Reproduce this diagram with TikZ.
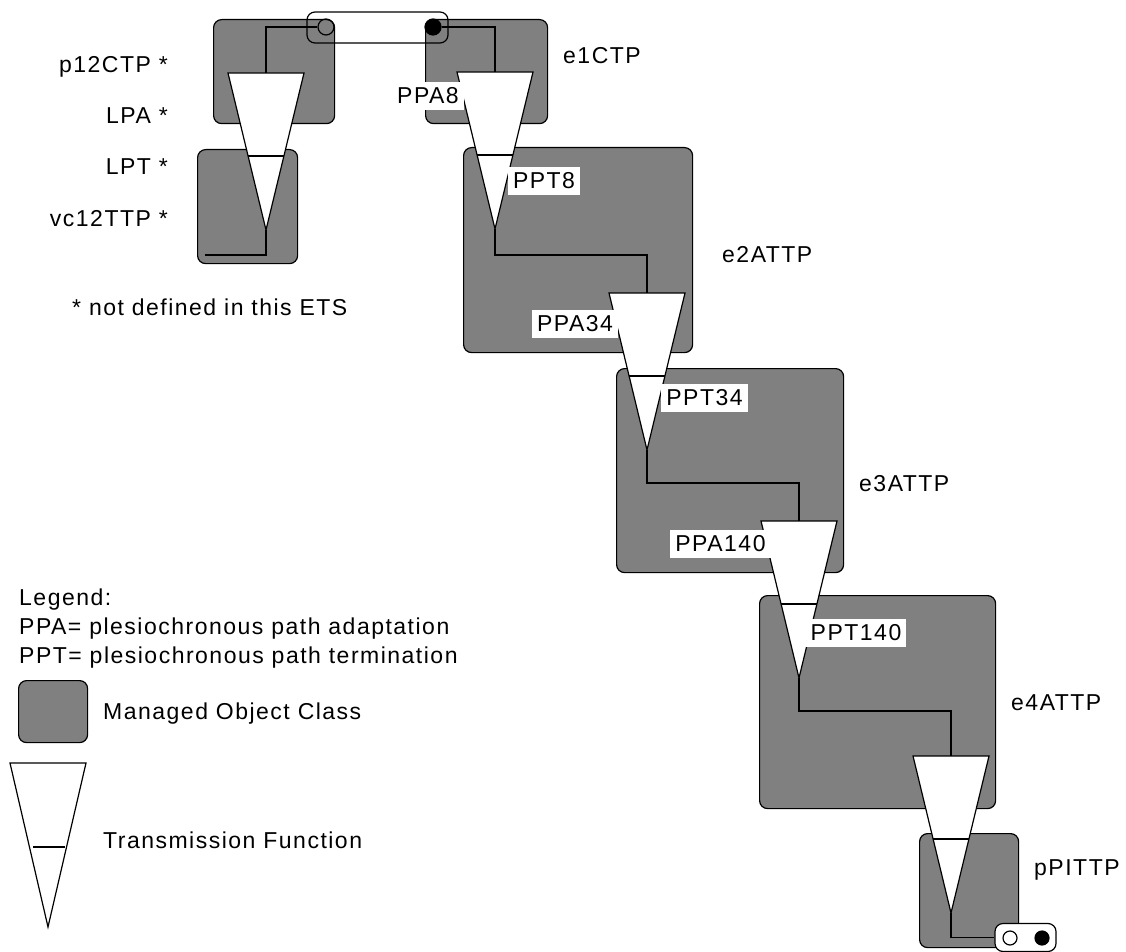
\documentclass[tikz,border=0pt]{standalone}
\usepackage{fontspec}
\setmainfont{Liberation Sans}[LetterSpace=6.5]
\definecolor{mogray}{HTML}{808080}
\tikzset{
  mo/.style={draw=black, fill=mogray, line width=1.2pt, rounded corners=8pt, inner sep=0pt, anchor=north west},
  wire/.style={line width=1.5pt},
  tfshape/.style={draw=black, fill=white, line width=1.2pt},
  tfbar/.style={line width=1.8pt},
  lbl/.style={font=\fontsize{23}{27}\selectfont, inner sep=0pt},
  tag/.style={lbl, fill=white, inner xsep=5pt, inner ysep=0pt, minimum height=28pt},
  dot/.style={circle, draw=black, line width=1.2pt, inner sep=0pt},
  tfn/.pic={
    \draw[tfshape] (-38,0) -- (38,0) -- (0,157) -- cycle;
    \draw[tfbar] (-18,83) -- (18,83);
    \coordinate (-top) at (0,0);
    \coordinate (-apex) at (0,157);
  }
}
\begin{document}
\begin{tikzpicture}[x=1pt,y=-1pt]
\useasboundingbox (0,0) rectangle (1126,952);

% managed object boxes
\node[mo, minimum width=121pt, minimum height=104pt] (p12) at (213,19) {};
\node[mo, minimum width=100pt, minimum height=114pt] (vc12) at (197,149) {};
\node[mo, minimum width=122pt, minimum height=104pt] (e1) at (425,19) {};
\node[mo, minimum width=229pt, minimum height=205pt] (e2) at (463,147) {};
\node[mo, minimum width=227pt, minimum height=204pt] (e3) at (616,368) {};
\node[mo, minimum width=236pt, minimum height=213pt] (e4) at (759,595) {};
\node[mo, minimum width=99pt, minimum height=114pt] (ppi) at (919,833) {};

% connection points
\node[draw=black, line width=1.2pt, rounded corners=8pt, minimum width=141pt, minimum height=31pt, inner sep=0pt] (conn) at (377.5,27.5) {};
\node[dot, minimum size=16pt] (oc1) at (326,27) {};
\node[dot, fill=black, minimum size=16pt] (fc1) at (433,27) {};
\node[draw=black, fill=white, line width=1.2pt, rounded corners=8pt, minimum width=61pt, minimum height=28pt, inner sep=0pt] (term) at (1025.5,937.5) {};
\node[dot, fill=white, minimum size=14pt] (oc2) at (1010,938) {};
\node[dot, fill=black, minimum size=14pt] (fc2) at (1042,938) {};

% transmission functions
\pic (t1) at (266,73) {tfn};
\pic (t2) at (495,72) {tfn};
\pic (t3) at (647,293) {tfn};
\pic (t4) at (799,521) {tfn};
\pic (t5) at (951,756) {tfn};
\coordinate (w1end) at (205,255);

% wires
\draw[wire] (oc1.west) -| (t1-top);
\draw[wire] (t1-apex) |- (w1end);
\draw[wire] (fc1) -| (t2-top);
\draw[wire] (t2-apex) -- ([yshift=-26pt]t2-apex) -| (t3-top);
\draw[wire] (t3-apex) -- ([yshift=-33pt]t3-apex) -| (t4-top);
\draw[wire] (t4-apex) -- ([yshift=-33pt]t4-apex) -| (t5-top);
\draw[wire] (t5-apex) |- (term.west);

% function labels
\node[tag] (ppa8) at (428,96) {PPA8};
\node[tag] (ppt8) at (544,181) {PPT8};
\node[tag] (ppa34) at (575,323.5) {PPA34};
\node[tag] (ppt34) at (704.5,398) {PPT34};
\node[tag] (ppa140) at (720.5,543.5) {PPA140};
\node[tag] (ppt140) at (856,633) {PPT140};

% object class labels
\node[lbl, anchor=base west] (le1) at (563,64) {e1CTP};
\node[lbl, anchor=base west] (le2) at (722,262) {e2ATTP};
\node[lbl, anchor=base west] (le3) at (859,491) {e3ATTP};
\node[lbl, anchor=base west] (le4) at (1011,710) {e4ATTP};
\node[lbl, anchor=base west] (lppi) at (1034,875) {pPITTP};

\node[lbl, anchor=base east] (lp12) at (168,73) {p12CTP *};
\node[lbl, anchor=base east] (llpa) at (168,124) {LPA *};
\node[lbl, anchor=base east] (llpt) at (168,175) {LPT *};
\node[lbl, anchor=base east] (lvc12) at (168,226) {vc12TTP *};
\node[lbl, anchor=base west] (note) at (72,315) {* not defined in this ETS};

% legend
\node[lbl, anchor=base west] (leg) at (19,605) {Legend:};
\node[lbl, anchor=base west] (legppa) at (19,634) {PPA= plesiochronous path adaptation};
\node[lbl, anchor=base west] (legppt) at (19,663) {PPT= plesiochronous path termination};
\node[mo, minimum width=69pt, minimum height=62pt] (legbox) at (18,680) {};
\node[lbl, anchor=base west] (legmo) at (103,719) {Managed Object Class};
\coordinate (lt1) at (10,763);
\coordinate (lt2) at (86,763);
\coordinate (lt3) at (48,927);
\draw[tfshape] (lt1) -- (lt2) -- (lt3) -- cycle;
\draw[line width=1.2pt] (33,847) -- (65,847);
\node[lbl, anchor=base west] (legtf) at (103,848) {Transmission Function};
\end{tikzpicture}
\end{document}
